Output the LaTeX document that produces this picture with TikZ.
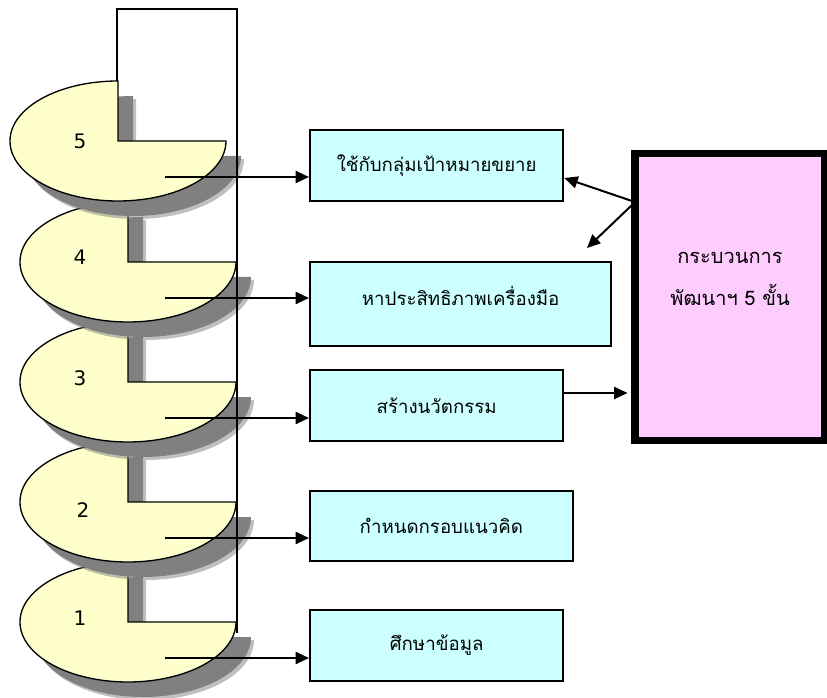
\documentclass[tikz,border=0pt]{standalone}
\usepackage{fontspec}
\setmainfont{DejaVu Sans}
\newfontfamily\thaifont[Script=Thai]{Loma}
\usetikzlibrary{arrows.meta,positioning}
\definecolor{pieyellow}{HTML}{FFFFCC}
\definecolor{boxcyan}{HTML}{CCFFFF}
\definecolor{procpink}{HTML}{FFCCFF}
\definecolor{shadowgray}{HTML}{808080}
\begin{document}
\begin{tikzpicture}[x=0.75pt,y=0.75pt,
  pie/.style={draw,line width=1pt,fill=pieyellow},
  pieshadow/.style={fill=shadowgray},
  stepbox/.style={draw,line width=1.5pt,fill=boxcyan,anchor=west,minimum height=53pt,
    font=\thaifont\fontsize{14}{17}\selectfont},
  link/.style={line width=1.5pt,-{Triangle[length=10pt,width=9pt]}}]
\useasboundingbox (0,0) rectangle (827,697);
% pie steps, lowest first so each shadow falls on the step below
\foreach \cx/\cy/\n/\lx/\ly in {128/75/1/80/79,128/195/2/83/187,128/315/3/80/319,128/435/4/80/440,118/556/5/80/556}{
  \fill[pieshadow,opacity=0.5,shift={(18,-18)}] (\cx,\cy) -- ++(81pt,0) arc[start angle=0,end angle=-270,x radius=81pt,y radius=45pt] -- cycle;
  \fill[pieshadow,shift={(15,-15)}] (\cx,\cy) -- ++(81pt,0) arc[start angle=0,end angle=-270,x radius=81pt,y radius=45pt] -- cycle;
  \draw[pie] (\cx,\cy) -- ++(81pt,0) arc[start angle=0,end angle=-270,x radius=81pt,y radius=45pt] -- cycle;
  \node[font=\fontsize{15}{18}\selectfont] (n\n) at (\lx,\ly) {\n};
  \coordinate (p\n) at (165,\cy-36);
}
\draw[line width=0.8pt] (117,616) -- (117,688) -- (237,688) -- (237,64);
% steps
\node[stepbox,minimum width=190pt] (b5) at (309,531.5) {ใช้กับกลุ่มเป้าหมายขยาย};
\node[stepbox,minimum width=226pt,minimum height=63pt,text depth=12pt] (b4) at (309,393) {หาประสิทธิภาพเครื่องมือ};
\node[stepbox,minimum width=190pt] (b3) at (309,291.5) {สร้างนวัตกรรม};
\node[stepbox,minimum width=197pt,minimum height=52.5pt] (b2) at (309,171) {กำหนดกรอบแนวคิด};
\node[stepbox,minimum width=190pt] (b1) at (309,51.5) {ศึกษาข้อมูล};
\foreach \n in {1,...,5} \draw[link] (p\n) -- (p\n -| b\n.west);
% process box
\node[draw,line width=5.6pt,fill=procpink,minimum width=142.5pt,minimum height=215.6pt] (proc) at (730,400) {};
\node[font=\thaifont\fontsize{15}{31}\selectfont,align=center] (proctext) at (730,418) {กระบวนการ\\พัฒนาฯ 5 ขั้น};
\coordinate (s1) at (632,496);
\coordinate (s2) at (632,492);
\coordinate (t2) at (587,449);
\draw[link] (s1) -- (b5.east |- 0,519);
\draw[link] (s2) -- (t2);
\draw[link,shorten >=2.8pt] (b3.east |- 0,304) -- (proc.west |- 0,304);
\end{tikzpicture}
\end{document}
